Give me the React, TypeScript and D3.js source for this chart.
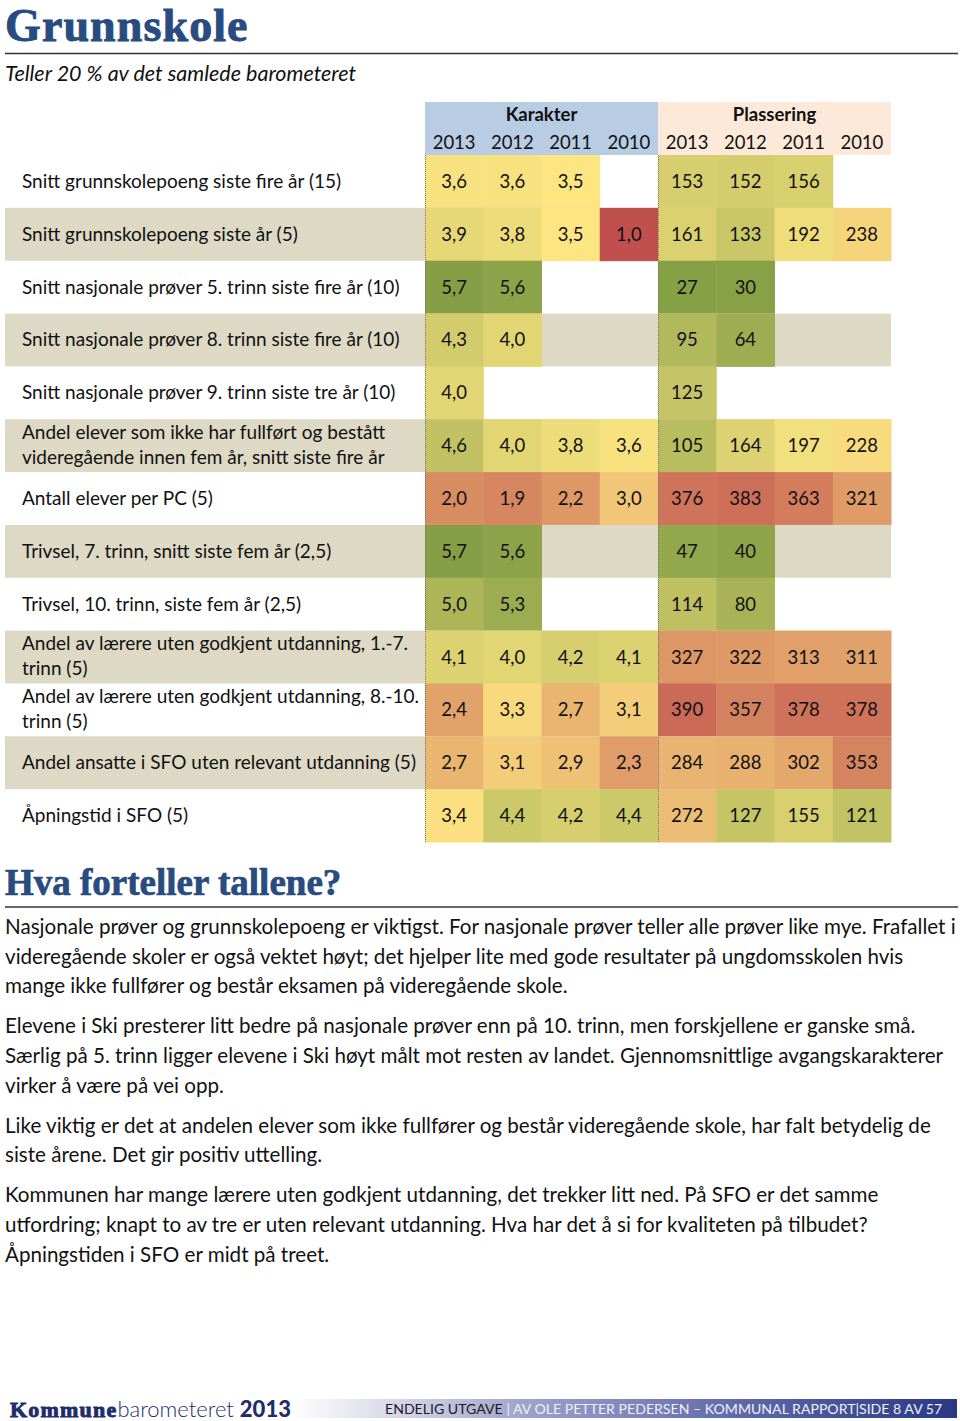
import React from "react";
import * as d3 from "d3";

const rowLabels: string[][] = [
  ["Snitt grunnskolepoeng siste fire år (15)"],
  ["Snitt grunnskolepoeng siste år (5)"],
  ["Snitt nasjonale prøver 5. trinn siste fire år (10)"],
  ["Snitt nasjonale prøver 8. trinn siste fire år (10)"],
  ["Snitt nasjonale prøver 9. trinn siste tre år (10)"],
  ["Andel elever som ikke har fullført og bestått", "videregående innen fem år, snitt siste fire år"],
  ["Antall elever per PC (5)"],
  ["Trivsel, 7. trinn, snitt siste fem år (2,5)"],
  ["Trivsel, 10. trinn, siste fem år (2,5)"],
  ["Andel av lærere uten godkjent utdanning, 1.-7.", "trinn (5)"],
  ["Andel av lærere uten godkjent utdanning, 8.-10.", "trinn (5)"],
  ["Andel ansatte i SFO uten relevant utdanning (5)"],
  ["Åpningstid i SFO (5)"],
];

const years = ["2013", "2012", "2011", "2010"];
const groups = ["Karakter", "Plassering"];

const karakter: (number | null)[][] = [
  [3.6, 3.6, 3.5, null],
  [3.9, 3.8, 3.5, 1.0],
  [5.7, 5.6, null, null],
  [4.3, 4.0, null, null],
  [4.0, null, null, null],
  [4.6, 4.0, 3.8, 3.6],
  [2.0, 1.9, 2.2, 3.0],
  [5.7, 5.6, null, null],
  [5.0, 5.3, null, null],
  [4.1, 4.0, 4.2, 4.1],
  [2.4, 3.3, 2.7, 3.1],
  [2.7, 3.1, 2.9, 2.3],
  [3.4, 4.4, 4.2, 4.4],
];

const plassering: (number | null)[][] = [
  [153, 152, 156, null],
  [161, 133, 192, 238],
  [27, 30, null, null],
  [95, 64, null, null],
  [125, null, null, null],
  [105, 164, 197, 228],
  [376, 383, 363, 321],
  [47, 40, null, null],
  [114, 80, null, null],
  [327, 322, 313, 311],
  [390, 357, 378, 378],
  [284, 288, 302, 353],
  [272, 127, 155, 121],
];

const paragraphs: string[][] = [
  [
    "Nasjonale prøver og grunnskolepoeng er viktigst. For nasjonale prøver teller alle prøver like mye. Frafallet i",
    "videregående skoler er også vektet høyt; det hjelper lite med gode resultater på ungdomsskolen hvis",
    "mange ikke fullfører og består eksamen på videregående skole.",
  ],
  [
    "Elevene i Ski presterer litt bedre på nasjonale prøver enn på 10. trinn, men forskjellene er ganske små.",
    "Særlig på 5. trinn ligger elevene i Ski høyt målt mot resten av landet. Gjennomsnittlige avgangskarakterer",
    "virker å være på vei opp.",
  ],
  [
    "Like viktig er det at andelen elever som ikke fullfører og består videregående skole, har falt betydelig de",
    "siste årene. Det gir positiv uttelling.",
  ],
  [
    "Kommunen har mange lærere uten godkjent utdanning, det trekker litt ned. På SFO er det samme",
    "utfordring; knapt to av tre er uten relevant utdanning. Hva har det å si for kvaliteten på tilbudet?",
    "Åpningstiden i SFO er midt på treet.",
  ],
];

const FONT = "Lato, 'Open Sans', sans-serif";
const SERIF = "'Liberation Serif', 'DejaVu Serif', serif";
const BLUE = "#284b80";
const RED = "#c0504d";
const YELLOW = "#fde582";
const GREEN = "#76963e";
const BEIGE = "#ddd9c4";

export default function App() {
  const W = 960;
  const H = 1421;
  const cols = d3.range(8).map(String);
  const x = d3.scaleBand<string>().domain(cols).range([425, 891]);
  const y = d3.scaleBand<string>().domain(rowLabels.map((_, i) => String(i))).range([155, 842]);
  const groupX = d3.scaleBand<string>().domain(groups).range([425, 891]);

  const gradeColor = d3
    .scaleLinear<string>()
    .domain([1, 3.5, 6])
    .range([RED, YELLOW, GREEN])
    .interpolate(d3.interpolateRgb)
    .clamp(true);
  const rankColor = d3
    .scaleLinear<string>()
    .domain([428, 214, 1])
    .range([RED, YELLOW, GREEN])
    .interpolate(d3.interpolateRgb)
    .clamp(true);
  const fmtGrade = (v: number) => d3.format(".1f")(v).replace(".", ",");
  const fmtRank = d3.format("d");

  const bw = x.bandwidth();
  const bh = y.bandwidth();

  const paraBaselines: number[][] = [];
  let yy = 934;
  paragraphs.forEach((p) => {
    const b: number[] = [];
    p.forEach(() => {
      b.push(yy);
      yy += 29.6;
    });
    paraBaselines.push(b);
    yy += 10.5;
  });

  return (
    <svg
      width={W}
      height={H}
      style={{ position: "absolute", left: 0, top: 0, background: "#fff" }}
      fontFamily={FONT}
    >
      <defs>
        <linearGradient id="footGrad" x1="0" x2="1" y1="0" y2="0">
          <stop offset="0" stopColor="#ffffff" />
          <stop offset="0.15" stopColor="#d9dae8" />
          <stop offset="0.35" stopColor="#9ea3cb" />
          <stop offset="0.7" stopColor="#5b65a6" />
          <stop offset="1" stopColor="#2a3883" />
        </linearGradient>
      </defs>

      {/* Title */}
      <text
        x={5}
        y={41}
        fontFamily={SERIF}
        fontWeight="bold"
        fontSize={46}
        fill={BLUE}
        stroke={BLUE}
        strokeWidth={0.9}
        letterSpacing={1.1}
      >
        Grunnskole
      </text>
      <line x1={5} x2={958} y1={53.5} y2={53.5} stroke="#333" strokeWidth={1.4} />
      <text x={5} y={81} fontStyle="italic" fontSize={21.5} fill="#111">
        Teller 20 % av det samlede barometeret
      </text>

      {/* Header */}
      {groups.map((g, gi) => (
        <g key={g}>
          <rect
            x={groupX(g)}
            y={102}
            width={groupX.bandwidth()}
            height={53}
            fill={gi === 0 ? "#b8cce4" : "#fde9d9"}
          />
          <text
            x={(groupX(g) as number) + groupX.bandwidth() / 2}
            y={121}
            textAnchor="middle"
            fontWeight="bold"
            fontSize={18.5}
            fill="#111"
          >
            {g}
          </text>
        </g>
      ))}
      {cols.map((c, i) => (
        <text key={c} x={(x(c) as number) + bw / 2} y={148.5} textAnchor="middle" fontSize={18.5} fill="#111">
          {years[i % 4]}
        </text>
      ))}

      {/* Rows */}
      {rowLabels.map((lines, i) => {
        const ry = y(String(i)) as number;
        const cy = ry + bh / 2;
        return (
          <g key={i}>
            {i % 2 === 1 && <rect x={5} y={ry} width={886} height={bh} fill={BEIGE} />}
            {lines.length === 1 ? (
              <text x={22} y={cy + 6.5} fontSize={19} fill="#111">
                {lines[0]}
              </text>
            ) : (
              lines.map((l, li) => (
                <text key={li} x={22} y={cy - 7 + li * 25} fontSize={19} fill="#111">
                  {l}
                </text>
              ))
            )}
            {karakter[i].map((v, j) =>
              v == null ? null : (
                <g key={"k" + j}>
                  <rect x={x(String(j))} y={ry} width={bw + 0.5} height={bh + 0.5} fill={gradeColor(v)} />
                  <text x={(x(String(j)) as number) + bw / 2} y={cy + 6.5} textAnchor="middle" fontSize={18.5} fill="#111">
                    {fmtGrade(v)}
                  </text>
                </g>
              )
            )}
            {plassering[i].map((v, j) =>
              v == null ? null : (
                <g key={"p" + j}>
                  <rect x={x(String(j + 4))} y={ry} width={bw + 0.5} height={bh + 0.5} fill={rankColor(v)} />
                  <text
                    x={(x(String(j + 4)) as number) + bw / 2}
                    y={cy + 6.5}
                    textAnchor="middle"
                    fontSize={18.5}
                    fill="#111"
                  >
                    {fmtRank(v)}
                  </text>
                </g>
              )
            )}
          </g>
        );
      })}
      {[0, 4].map((c) => (
        <line
          key={c}
          x1={(x(String(c)) as number) + 0.5}
          x2={(x(String(c)) as number) + 0.5}
          y1={155}
          y2={842}
          stroke="#777"
          strokeWidth={1}
          strokeDasharray="1,1"
        />
      ))}

      {/* Section 2 */}
      <text
        x={5}
        y={895}
        fontFamily={SERIF}
        fontWeight="bold"
        fontSize={37}
        fill={BLUE}
        stroke={BLUE}
        strokeWidth={0.7}
      >
        Hva forteller tallene?
      </text>
      <line x1={5} x2={958} y1={907} y2={907} stroke="#333" strokeWidth={1.4} />
      {paragraphs.map((p, pi) =>
        p.map((l, li) => (
          <text key={pi + "-" + li} x={5} y={paraBaselines[pi][li]} fontSize={20.6} fill="#111">
            {l}
          </text>
        ))
      )}

      {/* Footer */}
      <rect x={290} y={1399} width={667} height={19} fill="url(#footGrad)" />
      <text x={10} y={1417} fontSize={22} fill="#1f2c6b">
        <tspan fontFamily={SERIF} fontWeight="900" stroke="#1f2c6b" strokeWidth={0.9} letterSpacing={1.2}>
          Kommune
        </tspan>
        <tspan fontWeight="300">barometeret </tspan>
        <tspan fontWeight="900">2013</tspan>
      </text>
      <text x={385} y={1414} fontSize={14.1} fill="#1a1a2a">
        <tspan>ENDELIG UTGAVE </tspan>
        <tspan fill="#eef0fa">| AV OLE PETTER PEDERSEN – KOMMUNAL RAPPORT|SIDE 8 AV 57</tspan>
      </text>
    </svg>
  );
}
